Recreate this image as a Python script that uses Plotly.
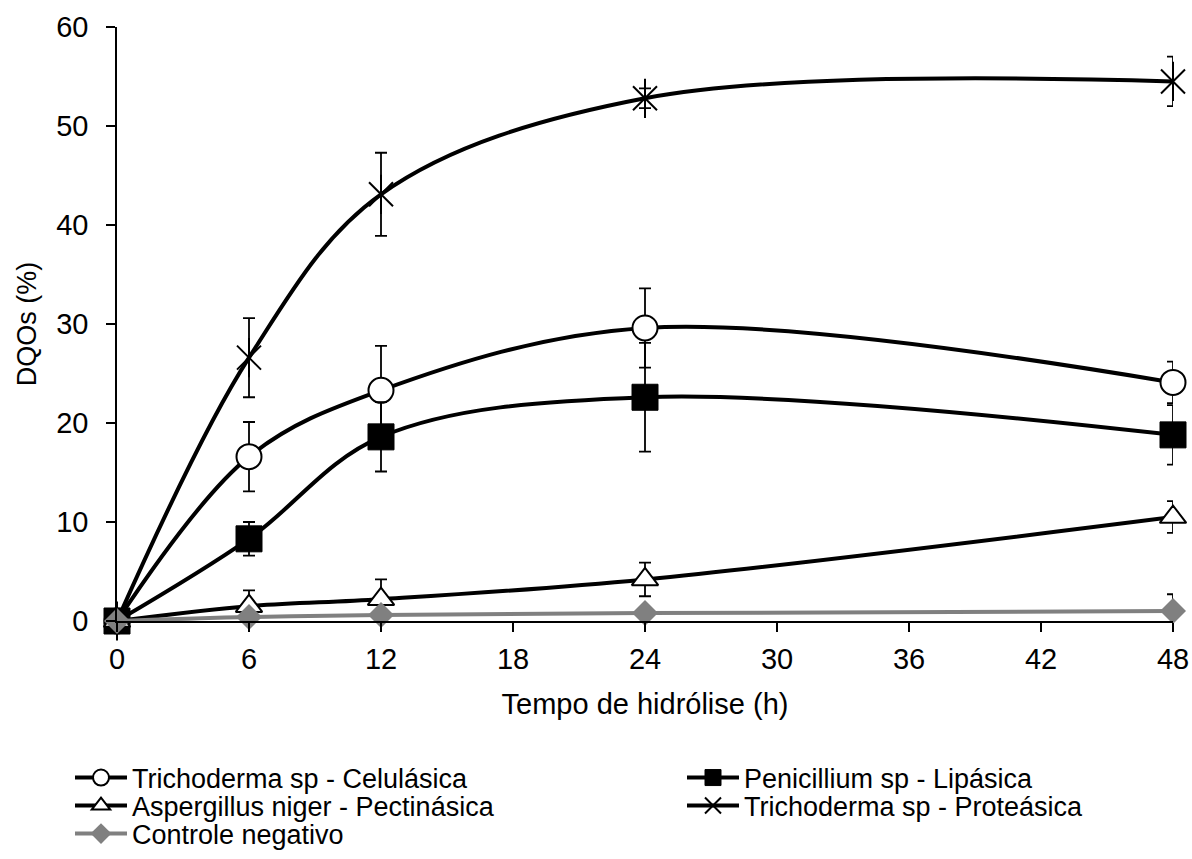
import plotly.graph_objects as go

tempo = [0, 6, 12, 24, 48]
x_ticks = [0, 6, 12, 18, 24, 30, 36, 42, 48]
y_ticks = [0, 10, 20, 30, 40, 50, 60]

celulasica = [0, 16.6, 23.3, 29.6, 24.1]
celulasica_err = [0, 3.5, 4.5, 4.0, 2.1]
lipasica = [0, 8.3, 18.6, 22.6, 18.8]
lipasica_err = [0, 1.7, 3.5, 5.5, 3.0]
pectinasica = [0, 1.5, 2.2, 4.2, 10.5]
pectinasica_err = [0, 1.6, 2.0, 1.7, 1.6]
proteasica = [0, 26.6, 43.1, 52.8, 54.5]
proteasica_err = [0, 4.0, 4.2, 1.0, 2.5]
controle = [0, 0.4, 0.6, 0.8, 1.0]
controle_err = [0, 0.0, 0.3, 0.3, 1.7]

names = ["Trichoderma sp - Celulásica", "Penicillium sp - Lipásica",
         "Aspergillus niger - Pectinásica", "Trichoderma sp - Proteásica",
         "Controle negativo"]

FONT = "Liberation Sans, Arial, sans-serif"
W, H = 1192, 859
fig = go.Figure()

def err(arr, color="black"):
    return dict(type="data", array=arr, visible=True, color=color, thickness=1.8, width=6)

line_k = dict(color="black", width=4, shape="spline", smoothing=1.0)

fig.add_trace(go.Scatter(x=tempo, y=celulasica, name=names[0], mode="lines+markers",
    line=line_k, error_y=err(celulasica_err), cliponaxis=False, legend="legend",
    marker=dict(symbol="circle", size=25, color="white", line=dict(color="black", width=2))))
fig.add_trace(go.Scatter(x=tempo, y=lipasica, name=names[1], mode="lines+markers",
    line=line_k, error_y=err(lipasica_err), cliponaxis=False, legend="legend2",
    marker=dict(symbol="square", size=26, color="black", line=dict(color="black", width=1))))
fig.add_trace(go.Scatter(x=tempo, y=pectinasica, name=names[2], mode="lines+markers",
    line=line_k, error_y=err(pectinasica_err), cliponaxis=False, legend="legend3",
    marker=dict(symbol="triangle-up", size=23, color="white", line=dict(color="black", width=2))))
fig.add_trace(go.Scatter(x=tempo, y=proteasica, name=names[3], mode="lines+markers",
    line=line_k, error_y=err(proteasica_err), cliponaxis=False, legend="legend4",
    legendgroup="prot",
    marker=dict(symbol="x-thin-open", size=24, color="black", line=dict(color="black", width=2))))
fig.add_trace(go.Scatter(x=tempo, y=proteasica, name=names[3], mode="markers",
    showlegend=False, legendgroup="prot", legend="legend4", cliponaxis=False, hoverinfo="skip",
    marker=dict(symbol="line-ns-open", size=28, color="black", line=dict(color="black", width=2))))
fig.add_trace(go.Scatter(x=tempo, y=controle, name=names[4], mode="lines+markers",
    line=dict(color="#808080", width=4, shape="spline", smoothing=1.0),
    error_y=err(controle_err), cliponaxis=False, legend="legend5",
    marker=dict(symbol="diamond", size=20, color="#808080", line=dict(color="#808080", width=0))))

axis_common = dict(showline=True, linecolor="black", linewidth=1.5, ticks="outside",
                   ticklen=9, tickwidth=1.5, tickcolor="black", showgrid=False,
                   zeroline=False, tickfont=dict(size=29, color="black", family=FONT),
                   automargin=False, ticklabeloverflow="allow")

fig.update_xaxes(range=[0, 48], tickvals=x_ticks, title_text="Tempo de hidrólise (h)",
                 title_font=dict(size=29, color="black", family=FONT),
                 title_standoff=20, ticklabelstandoff=2, **axis_common)
fig.update_yaxes(range=[0, 60], tickvals=y_ticks, title_text="DQOs (%)",
                 title_font=dict(size=27, color="black", family=FONT),
                 title_standoff=12, ticklabelstandoff=12, **axis_common)

# legend placement (page px -> container fraction)
col_text = [133, 745]
row_mid = [778, 806, 834]
IW = 52
def leg(col, row):
    return dict(orientation="h", xref="container", yref="container",
                x=(col_text[col] - IW - 11) / W, y=1 - row_mid[row] / H,
                xanchor="left", yanchor="middle", itemwidth=IW,
                font=dict(size=27, family=FONT, color="black"),
                bgcolor="rgba(0,0,0,0)", borderwidth=0)

fig.update_layout(
    width=W, height=H,
    margin=dict(l=117, r=19, t=27, b=238),
    paper_bgcolor="white", plot_bgcolor="white",
    font=dict(family=FONT, size=27, color="black"),
    showlegend=True,
    legend=leg(0, 0), legend2=leg(1, 0), legend3=leg(0, 1),
    legend4=leg(1, 1), legend5=leg(0, 2),
)

fig.write_html("out.html", config={"displayModeBar": False},
               post_script="document.body.style.margin='0';document.body.style.overflow='hidden';")
